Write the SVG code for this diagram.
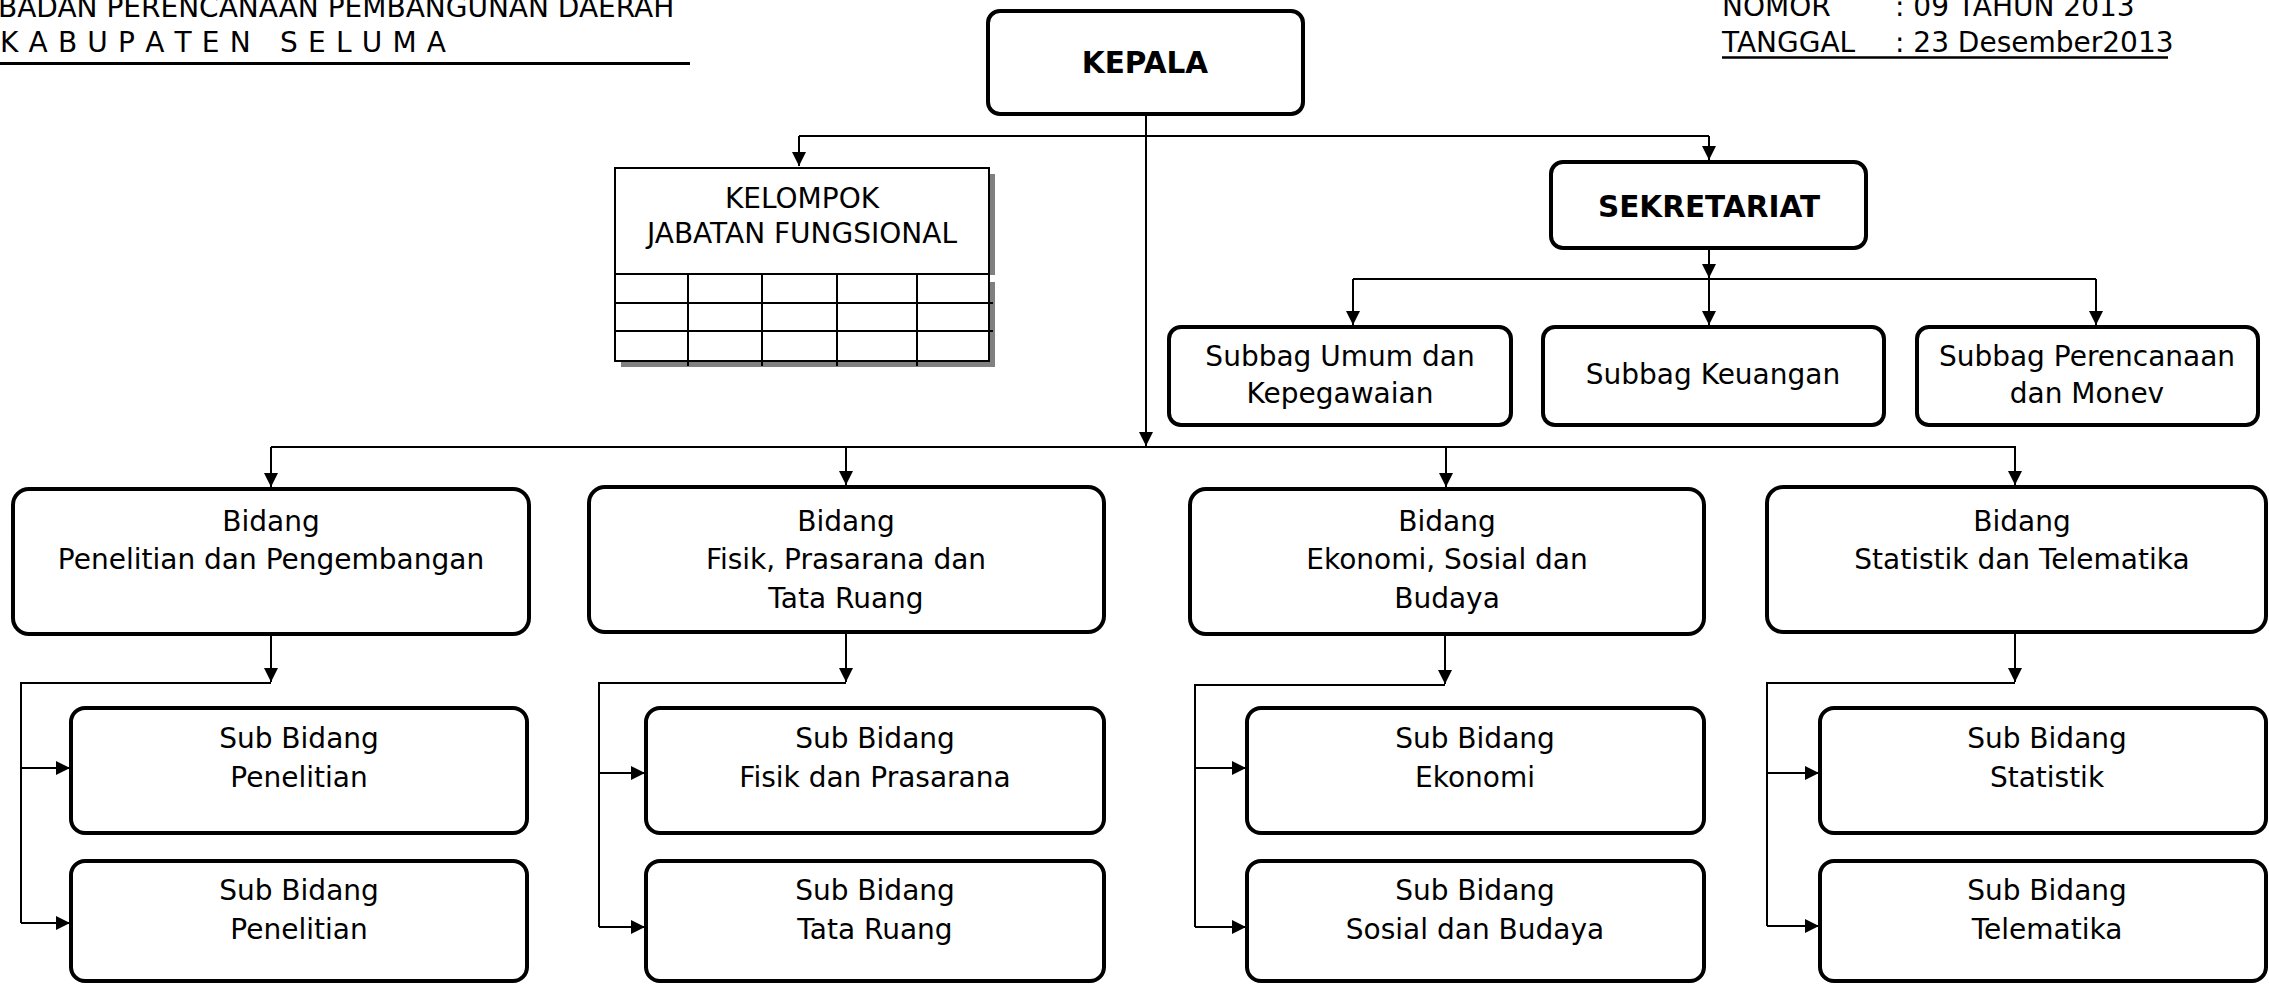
<svg xmlns="http://www.w3.org/2000/svg" width="2269" height="984" viewBox="0 0 2269 984">
<style>
.box{fill:#fff;stroke:#000;stroke-width:4}
.kb{fill:#fff;stroke:#000;stroke-width:2}
.sh{fill:#808080;stroke:none}
.t{font-family:"DejaVu Sans",Verdana,sans-serif;font-size:28px;fill:#000;text-anchor:middle}
.h{font-family:"DejaVu Sans",Verdana,sans-serif;font-size:28px;fill:#000}
.b{font-weight:bold;font-size:29.5px}
.c{fill:none;stroke:#000;stroke-width:2}
.a{marker-end:url(#arr)}
</style>
<defs>
<marker id="arr" viewBox="0 0 14 14" refX="14" refY="7" markerWidth="14" markerHeight="14" markerUnits="userSpaceOnUse" orient="auto">
<path d="M0,0 L14,7 L0,14 z" fill="#000"/>
</marker>
</defs>
<rect width="2269" height="984" fill="#fff"/>

<g id="header-left">
<text class="h" x="-2" y="17">BADAN PERENCANAAN PEMBANGUNAN DAERAH</text>
<text class="h" x="0" y="52" textLength="446" lengthAdjust="spacing" style="white-space:pre">K A B U P A T E N   S E L U M A</text>
<line x1="0" y1="63.5" x2="690" y2="63.5" stroke="#000" stroke-width="3"/>
</g>

<g id="header-right">
<text class="h" y="16"><tspan x="1722">NOMOR</tspan><tspan x="1895">: 09 TAHUN 2013</tspan></text>
<text class="h" y="52"><tspan x="1722">TANGGAL</tspan><tspan x="1895">: 23 Desember2013</tspan></text>
<line x1="1722" y1="57.5" x2="2168" y2="57.5" stroke="#000" stroke-width="2.5"/>
</g>

<g id="connectors">
<path class="c a" d="M1146,114 V446"/>
<path class="c" d="M799,136 H1709"/>
<path class="c a" d="M799,136 V166"/>
<path class="c a" d="M1709,136 V160"/>
<path class="c a" d="M1709,248 V278"/>
<path class="c" d="M1353,279 H2096"/>
<path class="c a" d="M1353,279 V325"/>
<path class="c a" d="M1709,279 V325"/>
<path class="c a" d="M2096,279 V325"/>
<path class="c" d="M271,447 H2016"/>
<path class="c a" d="M271,447 V487"/>
<path class="c a" d="M846,447 V485"/>
<path class="c a" d="M1446,447 V487"/>
<path class="c a" d="M2015,447 V485"/>

<path class="c a" d="M271,634 V682"/>
<path class="c" d="M271,683 H21 V923"/>
<path class="c a" d="M21,768 H70"/>
<path class="c a" d="M21,923 H70"/>

<path class="c a" d="M846,632 V682"/>
<path class="c" d="M846,683 H599 V927"/>
<path class="c a" d="M599,773 H645"/>
<path class="c a" d="M599,927 H645"/>

<path class="c a" d="M1445,634 V684"/>
<path class="c" d="M1445,685 H1195 V927"/>
<path class="c a" d="M1195,768 H1246"/>
<path class="c a" d="M1195,927 H1246"/>

<path class="c a" d="M2015,632 V682"/>
<path class="c" d="M2015,683 H1767 V926"/>
<path class="c a" d="M1767,773 H1819"/>
<path class="c a" d="M1767,926 H1819"/>
</g>

<g id="kepala">
<rect class="box" x="988" y="11" width="315" height="103" rx="12"/>
<text class="t b" x="1145" y="73">KEPALA</text>
</g>

<g id="kelompok-jabatan-fungsional">
<rect class="sh" x="621" y="174" width="374" height="101"/>
<rect class="sh" x="621" y="282" width="374" height="85"/>
<rect class="kb" x="615" y="168" width="374" height="106"/>
<rect class="kb" x="615" y="274" width="374" height="87"/>
<path d="M615,303 H993 M615,331 H993 M688,274 V366 M762,274 V366 M837,274 V366 M917,274 V366" stroke="#000" stroke-width="2" fill="none"/>
<text class="t" x="802" y="208">KELOMPOK</text>
<text class="t" x="802" y="243">JABATAN FUNGSIONAL</text>
</g>

<g id="sekretariat">
<rect class="box" x="1551" y="162" width="315" height="86" rx="12"/>
<text class="t b" x="1709" y="217">SEKRETARIAT</text>
</g>

<g id="subbag-umum">
<rect class="box" x="1169" y="327" width="342" height="98" rx="12"/>
<text class="t" x="1340" y="366">Subbag Umum dan</text>
<text class="t" x="1340" y="403">Kepegawaian</text>
</g>
<g id="subbag-keuangan">
<rect class="box" x="1543" y="327" width="341" height="98" rx="12"/>
<text class="t" x="1713" y="384">Subbag Keuangan</text>
</g>
<g id="subbag-perencanaan">
<rect class="box" x="1917" y="327" width="341" height="98" rx="12"/>
<text class="t" x="2087" y="366">Subbag Perencanaan</text>
<text class="t" x="2087" y="403">dan Monev</text>
</g>

<g id="bidang-litbang">
<rect class="box" x="13" y="489" width="516" height="145" rx="16"/>
<text class="t" x="271" y="531">Bidang</text>
<text class="t" x="271" y="569">Penelitian dan Pengembangan</text>
</g>
<g id="bidang-fisik">
<rect class="box" x="589" y="487" width="515" height="145" rx="16"/>
<text class="t" x="846" y="531">Bidang</text>
<text class="t" x="846" y="569">Fisik, Prasarana dan</text>
<text class="t" x="846" y="608">Tata Ruang</text>
</g>
<g id="bidang-ekonomi">
<rect class="box" x="1190" y="489" width="514" height="145" rx="16"/>
<text class="t" x="1447" y="531">Bidang</text>
<text class="t" x="1447" y="569">Ekonomi, Sosial dan</text>
<text class="t" x="1447" y="608">Budaya</text>
</g>
<g id="bidang-statistik">
<rect class="box" x="1767" y="487" width="499" height="145" rx="16"/>
<text class="t" x="2022" y="531">Bidang</text>
<text class="t" x="2022" y="569">Statistik dan Telematika</text>
</g>

<g id="sub-penelitian-1">
<rect class="box" x="71" y="708" width="456" height="125" rx="14"/>
<text class="t" x="299" y="748">Sub Bidang</text>
<text class="t" x="299" y="787">Penelitian</text>
</g>
<g id="sub-penelitian-2">
<rect class="box" x="71" y="861" width="456" height="120" rx="14"/>
<text class="t" x="299" y="900">Sub Bidang</text>
<text class="t" x="299" y="939">Penelitian</text>
</g>
<g id="sub-fisik">
<rect class="box" x="646" y="708" width="458" height="125" rx="14"/>
<text class="t" x="875" y="748">Sub Bidang</text>
<text class="t" x="875" y="787">Fisik dan Prasarana</text>
</g>
<g id="sub-tataruang">
<rect class="box" x="646" y="861" width="458" height="120" rx="14"/>
<text class="t" x="875" y="900">Sub Bidang</text>
<text class="t" x="875" y="939">Tata Ruang</text>
</g>
<g id="sub-ekonomi">
<rect class="box" x="1247" y="708" width="457" height="125" rx="14"/>
<text class="t" x="1475" y="748">Sub Bidang</text>
<text class="t" x="1475" y="787">Ekonomi</text>
</g>
<g id="sub-sosbud">
<rect class="box" x="1247" y="861" width="457" height="120" rx="14"/>
<text class="t" x="1475" y="900">Sub Bidang</text>
<text class="t" x="1475" y="939">Sosial dan Budaya</text>
</g>
<g id="sub-statistik">
<rect class="box" x="1820" y="708" width="446" height="125" rx="14"/>
<text class="t" x="2047" y="748">Sub Bidang</text>
<text class="t" x="2047" y="787">Statistik</text>
</g>
<g id="sub-telematika">
<rect class="box" x="1820" y="861" width="446" height="120" rx="14"/>
<text class="t" x="2047" y="900">Sub Bidang</text>
<text class="t" x="2047" y="939">Telematika</text>
</g>
</svg>
